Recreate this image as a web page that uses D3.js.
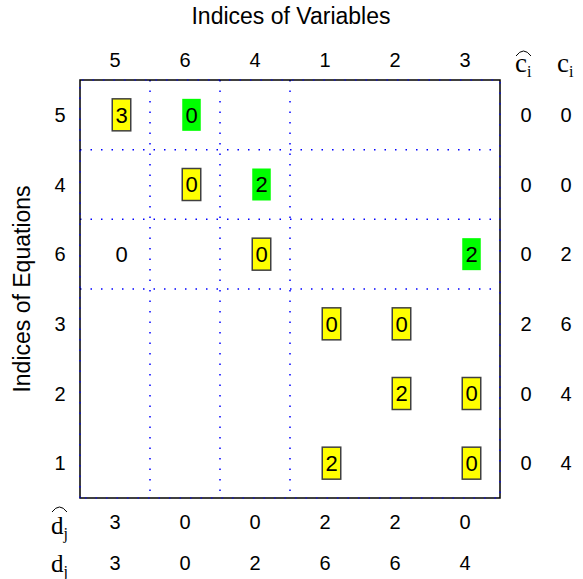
<!DOCTYPE html>
<html>
<head>
<meta charset="utf-8">
<title>Block triangular structure</title>
<script src="https://cdn.jsdelivr.net/npm/d3@7"></script>
<style>
  body { margin: 0; background: #fff; }
  text { font-family: 'Liberation Sans', Arial, sans-serif; }
  .tex { font-family: 'Liberation Serif', 'DejaVu Serif', serif; }
</style>
</head>
<body>
<svg id="chart" width="583" height="579"></svg>
<script>
// column / row orderings (permuted indices)
var colLabels = [5, 6, 4, 1, 2, 3];
var rowLabels = [5, 4, 6, 3, 2, 1];

// nonzero entries: [row position, column position, value, kind]
// kind: "y" = yellow box, "g" = green box, "n" = plain
var cells = [
  [0, 0, 3, "y"], [0, 1, 0, "g"],
  [1, 1, 0, "y"], [1, 2, 2, "g"],
  [2, 0, 0, "n"], [2, 2, 0, "y"], [2, 5, 2, "g"],
  [3, 3, 0, "y"], [3, 4, 0, "y"],
  [4, 4, 2, "y"], [4, 5, 0, "y"],
  [5, 3, 2, "y"], [5, 5, 0, "y"]
];

var cHat = [0, 0, 0, 2, 0, 0];
var cVal = [0, 0, 2, 6, 4, 4];
var dHat = [3, 0, 0, 2, 2, 0];
var dVal = [3, 0, 2, 6, 6, 4];

// block boundaries (after these positions)
var blockBreaks = [1, 2, 3];

var svg = d3.select("#chart");
var pL = 80, pR = 500, pT = 80, pB = 498;

var x = d3.scaleBand().domain(d3.range(colLabels.length)).range([pL, pR]);
var y = d3.scaleBand().domain(d3.range(rowLabels.length)).range([pT, pB]);
var cx = function(i){ return x(i) + x.bandwidth()/2; };
var cy = function(i){ return y(i) + y.bandwidth()/2; };

// dotted block separators
var dots = svg.append("g").attr("stroke", "#0000ff").attr("stroke-width", 1.5)
  .attr("stroke-dasharray", "1.5,9");
dots.selectAll("line.v").data(blockBreaks).enter().append("line")
  .attr("x1", function(d){ return x(d); }).attr("x2", function(d){ return x(d); })
  .attr("y1", pT).attr("y2", pB);
dots.selectAll("line.h").data(blockBreaks).enter().append("line")
  .attr("y1", function(d){ return y(d); }).attr("y2", function(d){ return y(d); })
  .attr("x1", pL).attr("x2", pR);

// frame
svg.append("rect").attr("x", pL).attr("y", pT)
  .attr("width", pR - pL).attr("height", pB - pT)
  .attr("fill", "none").attr("stroke", "#000").attr("stroke-width", 1.5);
// blue ticks on frame
svg.append("path")
  .attr("d", "M" + pL + "," + pB + "V" + pT + "H" + pR + "V" + pB + "H" + pL)
  .attr("fill", "none").attr("stroke", "#0000ff").attr("stroke-width", 1.2)
  .attr("stroke-dasharray", "1.5,9");

// title and axis label
svg.append("text").attr("x", 291).attr("y", 24).attr("text-anchor", "middle")
  .attr("font-size", 23).text("Indices of Variables");
svg.append("text").attr("transform", "translate(30," + ((pT + pB)/2) + ") rotate(-90)")
  .attr("text-anchor", "middle").attr("font-size", 23).text("Indices of Equations");

// column and row labels
svg.selectAll("text.col").data(colLabels).enter().append("text").attr("class", "col")
  .attr("x", function(d, i){ return cx(i); }).attr("y", 60)
  .attr("dy", "0.35em").attr("text-anchor", "middle").attr("font-size", 20)
  .text(function(d){ return d; });
svg.selectAll("text.row").data(rowLabels).enter().append("text").attr("class", "row")
  .attr("x", 60).attr("y", function(d, i){ return cy(i); })
  .attr("dy", "0.35em").attr("text-anchor", "middle").attr("font-size", 20)
  .text(function(d){ return d; });

// cells
var off = 6.5, bw = 18.5, bh = 32;
var cg = svg.selectAll("g.cell").data(cells).enter().append("g").attr("class", "cell")
  .attr("transform", function(d){ return "translate(" + (cx(d[1]) + off) + "," + cy(d[0]) + ")"; });
cg.filter(function(d){ return d[3] !== "n"; }).append("rect")
  .attr("x", -bw/2).attr("y", -bh/2).attr("width", bw).attr("height", bh)
  .attr("fill", function(d){ return d[3] === "y" ? "#ffff00" : "#00ff00"; })
  .attr("stroke", function(d){ return d[3] === "y" ? "#404040" : "none"; })
  .attr("stroke-width", 1.5);
cg.append("text").attr("text-anchor", "middle").attr("dy", "0.36em")
  .attr("font-size", 22).text(function(d){ return d[2]; });

// c-hat / c columns
svg.selectAll("text.chat").data(cHat).enter().append("text")
  .attr("x", 526).attr("y", function(d, i){ return cy(i); })
  .attr("dy", "0.35em").attr("text-anchor", "middle").attr("font-size", 20)
  .text(function(d){ return d; });
svg.selectAll("text.cval").data(cVal).enter().append("text")
  .attr("x", 566).attr("y", function(d, i){ return cy(i); })
  .attr("dy", "0.35em").attr("text-anchor", "middle").attr("font-size", 20)
  .text(function(d){ return d; });

// d-hat / d rows
svg.selectAll("text.dhat").data(dHat).enter().append("text")
  .attr("x", function(d, i){ return cx(i); }).attr("y", 522)
  .attr("dy", "0.35em").attr("text-anchor", "middle").attr("font-size", 20)
  .text(function(d){ return d; });
svg.selectAll("text.dval").data(dVal).enter().append("text")
  .attr("x", function(d, i){ return cx(i); }).attr("y", 563)
  .attr("dy", "0.35em").attr("text-anchor", "middle").attr("font-size", 20)
  .text(function(d){ return d; });

// math labels with hats
function mathLabel(px, py, base, sub, hat, fs) {
  var t = svg.append("text").attr("class", "tex").attr("x", px).attr("y", py).attr("font-size", fs);
  t.append("tspan").text(base);
  t.append("tspan").attr("font-size", 16).attr("dy", 5).text(sub);
  if (hat) {
    var bb = t.node().getBBox();
    var x0 = bb.x + 1, x1 = bb.x + bb.width - 1, h = py - (base === "d" ? 22 : 16);
    svg.append("path").attr("d", "M" + x0 + "," + h + "Q" + ((x0 + x1)/2) + "," + (h - 10) + " " + x1 + "," + h)
      .attr("fill", "none").attr("stroke", "#000").attr("stroke-width", 1);
  }
}
mathLabel(515, 72, "c", "i", true, 27);
mathLabel(557, 72, "c", "i", false, 27);
mathLabel(51, 534, "d", "j", true, 25);
mathLabel(51, 572, "d", "j", false, 25);
</script>
</body>
</html>
